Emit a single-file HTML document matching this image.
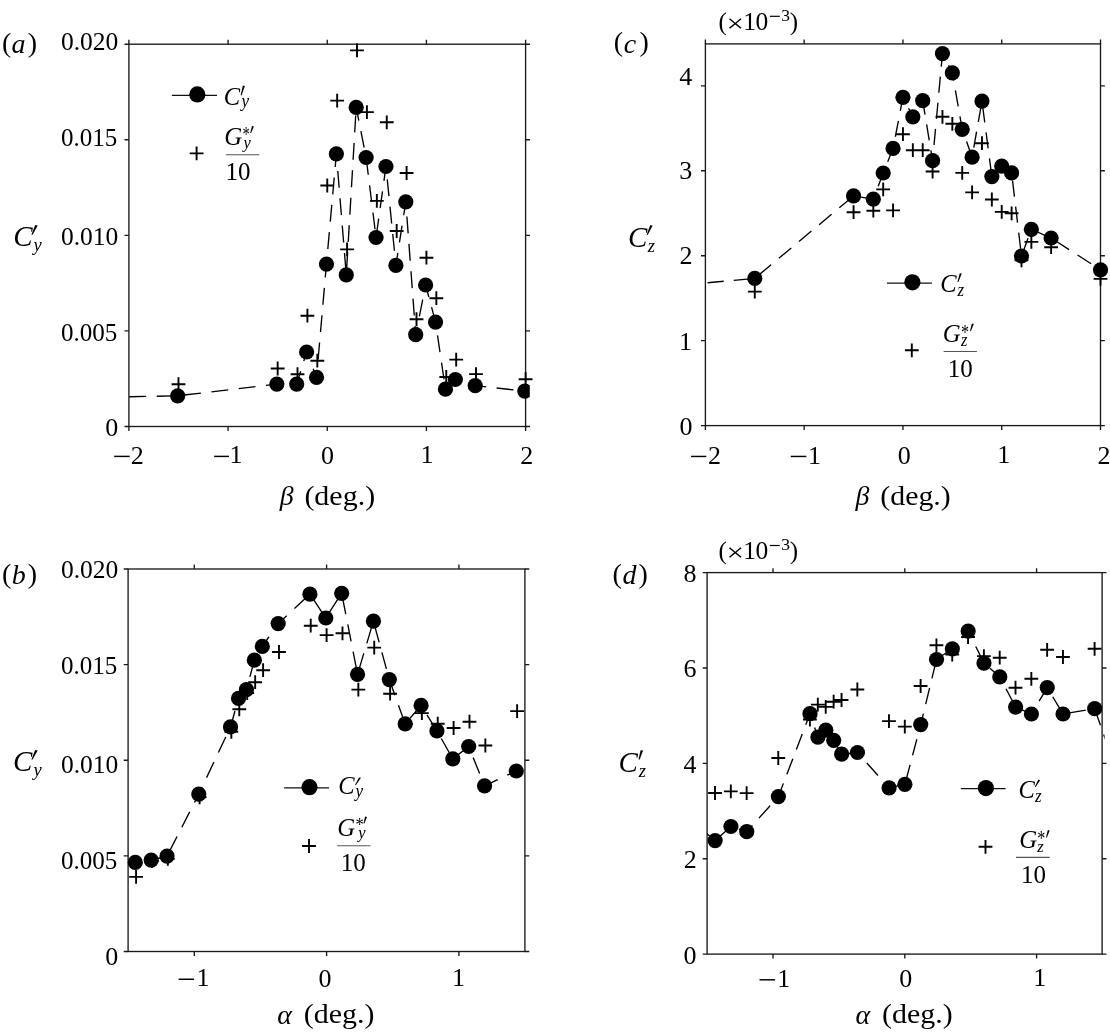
<!DOCTYPE html>
<html><head><meta charset="utf-8"><style>
html,body{margin:0;padding:0;background:#fff;overflow:hidden;}
svg{display:block;}
text{will-change:transform;}
</style></head><body>
<svg width="1110" height="1033" viewBox="0 0 1110 1033">
<rect width="1110" height="1033" fill="#fff"/>
<rect x="128.9" y="44.2" width="396.70" height="382.30" fill="none" stroke="#1a1a1a" stroke-width="1.35"/>
<path d="M128.89 426.50V430.90M128.89 44.20V39.80M228.07 426.50V430.90M228.07 44.20V39.80M327.25 426.50V430.90M327.25 44.20V39.80M426.43 426.50V430.90M426.43 44.20V39.80M525.61 426.50V430.90M525.61 44.20V39.80" stroke="#1a1a1a" stroke-width="1.35" fill="none"/>
<path d="M128.90 426.50H124.50M525.60 426.50H530.00M128.90 330.93H124.50M525.60 330.93H530.00M128.90 235.35H124.50M525.60 235.35H530.00M128.90 139.77H124.50M525.60 139.77H530.00M128.90 44.20H124.50M525.60 44.20H530.00" stroke="#1a1a1a" stroke-width="1.35" fill="none"/>
<clipPath id="ca"><rect x="128.9" y="0" width="400.90" height="1033"/></clipPath>
<path d="M128.90 396.80 L177.68 395.80 L276.86 384.10 L296.70 384.10 L306.61 352.00 L316.53 377.40 L326.45 264.10" stroke="#000" stroke-width="1.35" fill="none" stroke-dasharray="16.9 10.55" stroke-dashoffset="27.05" clip-path="url(#ca)"/>
<path d="M326.45 264.10 L336.37 153.80" stroke="#000" stroke-width="1.35" fill="none" stroke-dasharray="16.9 10.55" stroke-dashoffset="12.29" clip-path="url(#ca)"/>
<path d="M336.37 153.80 L346.29 274.90 L356.20 107.40" stroke="#000" stroke-width="1.35" fill="none" stroke-dasharray="16.9 10.55" stroke-dashoffset="10.24" clip-path="url(#ca)"/>
<path d="M356.20 107.40 L366.12 157.50 L376.04 237.50 L385.96 166.50 L395.88 265.40 L405.79 201.80" stroke="#000" stroke-width="1.35" fill="none" stroke-dasharray="16.9 10.55" stroke-dashoffset="3.34" clip-path="url(#ca)"/>
<path d="M405.79 201.80 L415.71 334.70 L425.63 285.00 L435.55 322.10" stroke="#000" stroke-width="1.35" fill="none" stroke-dasharray="16.9 10.55" stroke-dashoffset="12.67" clip-path="url(#ca)"/>
<path d="M435.55 322.10 L445.47 389.20 L455.38 379.50 L475.22 385.70" stroke="#000" stroke-width="1.35" fill="none" stroke-dasharray="16.9 10.55" stroke-dashoffset="14.03" clip-path="url(#ca)"/>
<path d="M475.22 385.70 L524.81 391.10" stroke="#000" stroke-width="1.35" fill="none" stroke-dasharray="16.9 10.55" stroke-dashoffset="5.86" clip-path="url(#ca)"/>
<g clip-path="url(#ca)">
<circle cx="177.68" cy="395.80" r="7.6"/>
<circle cx="276.86" cy="384.10" r="7.6"/>
<circle cx="296.70" cy="384.10" r="7.6"/>
<circle cx="306.61" cy="352.00" r="7.6"/>
<circle cx="316.53" cy="377.40" r="7.6"/>
<circle cx="326.45" cy="264.10" r="7.6"/>
<circle cx="336.37" cy="153.80" r="7.6"/>
<circle cx="346.29" cy="274.90" r="7.6"/>
<circle cx="356.20" cy="107.40" r="7.6"/>
<circle cx="366.12" cy="157.50" r="7.6"/>
<circle cx="376.04" cy="237.50" r="7.6"/>
<circle cx="385.96" cy="166.50" r="7.6"/>
<circle cx="395.88" cy="265.40" r="7.6"/>
<circle cx="405.79" cy="201.80" r="7.6"/>
<circle cx="415.71" cy="334.70" r="7.6"/>
<circle cx="425.63" cy="285.00" r="7.6"/>
<circle cx="435.55" cy="322.10" r="7.6"/>
<circle cx="445.47" cy="389.20" r="7.6"/>
<circle cx="455.38" cy="379.50" r="7.6"/>
<circle cx="475.22" cy="385.70" r="7.6"/>
<circle cx="524.81" cy="391.10" r="7.6"/>
</g>
<path d="M171.58 384.20H185.38M178.48 377.30V391.10M270.76 368.50H284.56M277.66 361.60V375.40M290.60 374.20H304.40M297.50 367.30V381.10M300.51 315.70H314.31M307.41 308.80V322.60M310.43 360.70H324.23M317.33 353.80V367.60M320.35 185.50H334.15M327.25 178.60V192.40M330.27 100.60H344.07M337.17 93.70V107.50M340.19 249.40H353.99M347.09 242.50V256.30M350.10 50.40H363.90M357.00 43.50V57.30M360.02 112.10H373.82M366.92 105.20V119.00M369.94 200.90H383.74M376.84 194.00V207.80M379.86 122.30H393.66M386.76 115.40V129.20M389.78 231.00H403.58M396.68 224.10V237.90M399.69 173.00H413.49M406.59 166.10V179.90M409.61 319.20H423.41M416.51 312.30V326.10M419.53 257.70H433.33M426.43 250.80V264.60M429.45 298.20H443.25M436.35 291.30V305.10M439.37 377.00H453.17M446.27 370.10V383.90M449.28 359.60H463.08M456.18 352.70V366.50M469.12 374.10H482.92M476.02 367.20V381.00M518.71 379.20H532.51M525.61 372.30V386.10" stroke="#000" stroke-width="1.9" fill="none"/>
<rect x="705.4" y="43.9" width="395.10" height="381.70" fill="none" stroke="#1a1a1a" stroke-width="1.35"/>
<path d="M705.39 425.60V430.00M705.39 43.90V39.50M804.17 425.60V430.00M804.17 43.90V39.50M902.95 425.60V430.00M902.95 43.90V39.50M1001.73 425.60V430.00M1001.73 43.90V39.50M1100.51 425.60V430.00M1100.51 43.90V39.50" stroke="#1a1a1a" stroke-width="1.35" fill="none"/>
<path d="M705.40 425.60H701.00M1100.50 425.60H1104.90M705.40 340.65H701.00M1100.50 340.65H1104.90M705.40 255.70H701.00M1100.50 255.70H1104.90M705.40 170.75H701.00M1100.50 170.75H1104.90M705.40 85.80H701.00M1100.50 85.80H1104.90" stroke="#1a1a1a" stroke-width="1.35" fill="none"/>
<clipPath id="cc"><rect x="705.4" y="0" width="399.10" height="1033"/></clipPath>
<path d="M705.40 283.00 L754.78 278.40 L853.56 195.90 L873.32 199.20 L883.19 173.00 L893.07 148.40 L902.95 97.30 L912.83 116.80 L922.71 100.70 L932.58 160.70 L942.46 53.60 L952.34 72.90 L962.22 129.30 L972.10 157.20 L981.97 101.10 L991.85 176.60 L1001.73 166.10 L1011.61 172.90 L1021.49 256.00 L1031.36 229.30 L1051.12 238.00 L1100.51 269.80" stroke="#000" stroke-width="1.35" fill="none" stroke-dasharray="16.2 10.05" stroke-dashoffset="-2.2" clip-path="url(#cc)"/>
<circle cx="754.78" cy="278.40" r="7.6"/>
<circle cx="853.56" cy="195.90" r="7.6"/>
<circle cx="873.32" cy="199.20" r="7.6"/>
<circle cx="883.19" cy="173.00" r="7.6"/>
<circle cx="893.07" cy="148.40" r="7.6"/>
<circle cx="902.95" cy="97.30" r="7.6"/>
<circle cx="912.83" cy="116.80" r="7.6"/>
<circle cx="922.71" cy="100.70" r="7.6"/>
<circle cx="932.58" cy="160.70" r="7.6"/>
<circle cx="942.46" cy="53.60" r="7.6"/>
<circle cx="952.34" cy="72.90" r="7.6"/>
<circle cx="962.22" cy="129.30" r="7.6"/>
<circle cx="972.10" cy="157.20" r="7.6"/>
<circle cx="981.97" cy="101.10" r="7.6"/>
<circle cx="991.85" cy="176.60" r="7.6"/>
<circle cx="1001.73" cy="166.10" r="7.6"/>
<circle cx="1011.61" cy="172.90" r="7.6"/>
<circle cx="1021.49" cy="256.00" r="7.6"/>
<circle cx="1031.36" cy="229.30" r="7.6"/>
<circle cx="1051.12" cy="238.00" r="7.6"/>
<circle cx="1100.51" cy="269.80" r="7.6"/>
<path d="M747.88 291.60H761.68M754.78 284.70V298.50M846.66 212.20H860.46M853.56 205.30V219.10M866.42 210.70H880.22M873.32 203.80V217.60M876.29 189.40H890.09M883.19 182.50V196.30M886.17 210.40H899.97M893.07 203.50V217.30M896.05 134.20H909.85M902.95 127.30V141.10M905.93 150.20H919.73M912.83 143.30V157.10M915.81 150.20H929.61M922.71 143.30V157.10M925.68 171.50H939.48M932.58 164.60V178.40M935.56 116.80H949.36M942.46 109.90V123.70M945.44 123.80H959.24M952.34 116.90V130.70M955.32 172.90H969.12M962.22 166.00V179.80M965.20 192.40H979.00M972.10 185.50V199.30M975.07 143.20H988.87M981.97 136.30V150.10M984.95 199.50H998.75M991.85 192.60V206.40M994.83 211.90H1008.63M1001.73 205.00V218.80M1004.71 213.30H1018.51M1011.61 206.40V220.20M1014.59 260.30H1028.39M1021.49 253.40V267.20M1024.46 241.90H1038.26M1031.36 235.00V248.80M1044.22 247.20H1058.02M1051.12 240.30V254.10M1093.61 278.90H1107.41M1100.51 272.00V285.80" stroke="#000" stroke-width="1.9" fill="none"/>
<rect x="128.1" y="569.0" width="396.80" height="382.50" fill="none" stroke="#1a1a1a" stroke-width="1.35"/>
<path d="M194.30 951.50V955.90M194.30 569.00V564.60M326.60 951.50V955.90M326.60 569.00V564.60M458.90 951.50V955.90M458.90 569.00V564.60" stroke="#1a1a1a" stroke-width="1.35" fill="none"/>
<path d="M128.10 951.50H123.70M524.90 951.50H529.30M128.10 855.88H123.70M524.90 855.88H529.30M128.10 760.25H123.70M524.90 760.25H529.30M128.10 664.62H123.70M524.90 664.62H529.30M128.10 569.00H123.70M524.90 569.00H529.30" stroke="#1a1a1a" stroke-width="1.35" fill="none"/>
<clipPath id="cb"><rect x="128.1" y="0" width="400.80" height="1033"/></clipPath>
<path d="M135.29 862.40 L151.16 860.10 L167.04 856.10 L198.79 794.10 L230.54 726.90 L238.48 698.40 L246.42 689.70 L254.36 660.20 L262.30 646.40 L278.17 623.60 L309.92 594.20 L325.80 618.00 L341.68 593.30 L357.55 674.30 L373.43 621.20 L389.30 679.60 L405.18 723.90 L421.06 705.40 L436.93 730.90 L452.81 758.80 L468.68 746.50 L484.56 785.80 L516.31 771.00" stroke="#000" stroke-width="1.35" fill="none" stroke-dasharray="17.2 10.5" stroke-dashoffset="-9.49" clip-path="url(#cb)"/>
<circle cx="135.29" cy="862.40" r="7.6"/>
<circle cx="151.16" cy="860.10" r="7.6"/>
<circle cx="167.04" cy="856.10" r="7.6"/>
<circle cx="198.79" cy="794.10" r="7.6"/>
<circle cx="230.54" cy="726.90" r="7.6"/>
<circle cx="238.48" cy="698.40" r="7.6"/>
<circle cx="246.42" cy="689.70" r="7.6"/>
<circle cx="254.36" cy="660.20" r="7.6"/>
<circle cx="262.30" cy="646.40" r="7.6"/>
<circle cx="278.17" cy="623.60" r="7.6"/>
<circle cx="309.92" cy="594.20" r="7.6"/>
<circle cx="325.80" cy="618.00" r="7.6"/>
<circle cx="341.68" cy="593.30" r="7.6"/>
<circle cx="357.55" cy="674.30" r="7.6"/>
<circle cx="373.43" cy="621.20" r="7.6"/>
<circle cx="389.30" cy="679.60" r="7.6"/>
<circle cx="405.18" cy="723.90" r="7.6"/>
<circle cx="421.06" cy="705.40" r="7.6"/>
<circle cx="436.93" cy="730.90" r="7.6"/>
<circle cx="452.81" cy="758.80" r="7.6"/>
<circle cx="468.68" cy="746.50" r="7.6"/>
<circle cx="484.56" cy="785.80" r="7.6"/>
<circle cx="516.31" cy="771.00" r="7.6"/>
<path d="M129.19 876.90H142.99M136.09 870.00V883.80M145.06 861.00H158.86M151.96 854.10V867.90M160.94 858.90H174.74M167.84 852.00V865.80M192.69 797.30H206.49M199.59 790.40V804.20M224.44 731.80H238.24M231.34 724.90V738.70M232.38 709.30H246.18M239.28 702.40V716.20M240.32 693.00H254.12M247.22 686.10V699.90M248.26 682.20H262.06M255.16 675.30V689.10M256.20 670.20H270.00M263.10 663.30V677.10M272.07 652.00H285.87M278.97 645.10V658.90M303.82 625.70H317.62M310.72 618.80V632.60M319.70 635.10H333.50M326.60 628.20V642.00M335.58 633.30H349.38M342.48 626.40V640.20M351.45 689.60H365.25M358.35 682.70V696.50M367.33 647.60H381.13M374.23 640.70V654.50M383.20 693.70H397.00M390.10 686.80V700.60M399.08 724.00H412.88M405.98 717.10V730.90M414.96 713.10H428.76M421.86 706.20V720.00M430.83 723.70H444.63M437.73 716.80V730.60M446.71 728.00H460.51M453.61 721.10V734.90M462.58 721.70H476.38M469.48 714.80V728.60M478.46 745.50H492.26M485.36 738.60V752.40M510.21 711.10H524.01M517.11 704.20V718.00" stroke="#000" stroke-width="1.9" fill="none"/>
<rect x="707.1" y="572.6" width="395.00" height="381.50" fill="none" stroke="#1a1a1a" stroke-width="1.35"/>
<path d="M773.00 954.10V958.50M773.00 572.60V568.20M904.80 954.10V958.50M904.80 572.60V568.20M1036.60 954.10V958.50M1036.60 572.60V568.20" stroke="#1a1a1a" stroke-width="1.35" fill="none"/>
<path d="M707.10 954.10H702.70M1102.10 954.10H1106.50M707.10 858.73H702.70M1102.10 858.73H1106.50M707.10 763.35H702.70M1102.10 763.35H1106.50M707.10 667.98H702.70M1102.10 667.98H1106.50M707.10 572.60H702.70M1102.10 572.60H1106.50" stroke="#1a1a1a" stroke-width="1.35" fill="none"/>
<clipPath id="cd"><rect x="707.1" y="0" width="397.50" height="1033"/></clipPath>
<path d="M700.00 828.00 L715.11 840.60 L730.92 826.50 L746.74 831.70 L778.37 796.60 L810.00 713.70 L817.91 737.10 L825.82 730.20 L833.73 740.30 L841.64 754.20 L857.45 752.50 L889.08 787.80 L904.90 784.30 L920.72 724.60 L936.53 659.50 L952.35 648.80 L968.16 631.10 L983.98 663.10 L999.80 676.90 L1015.61 707.10 L1031.43 714.00 L1047.24 687.60 L1063.06 714.00 L1094.69 708.70 L1106.00 741.00" stroke="#000" stroke-width="1.35" fill="none" stroke-dasharray="16.7 9.77" stroke-dashoffset="-22.8" clip-path="url(#cd)"/>
<circle cx="715.11" cy="840.60" r="7.6"/>
<circle cx="730.92" cy="826.50" r="7.6"/>
<circle cx="746.74" cy="831.70" r="7.6"/>
<circle cx="778.37" cy="796.60" r="7.6"/>
<circle cx="810.00" cy="713.70" r="7.6"/>
<circle cx="817.91" cy="737.10" r="7.6"/>
<circle cx="825.82" cy="730.20" r="7.6"/>
<circle cx="833.73" cy="740.30" r="7.6"/>
<circle cx="841.64" cy="754.20" r="7.6"/>
<circle cx="857.45" cy="752.50" r="7.6"/>
<circle cx="889.08" cy="787.80" r="7.6"/>
<circle cx="904.90" cy="784.30" r="7.6"/>
<circle cx="920.72" cy="724.60" r="7.6"/>
<circle cx="936.53" cy="659.50" r="7.6"/>
<circle cx="952.35" cy="648.80" r="7.6"/>
<circle cx="968.16" cy="631.10" r="7.6"/>
<circle cx="983.98" cy="663.10" r="7.6"/>
<circle cx="999.80" cy="676.90" r="7.6"/>
<circle cx="1015.61" cy="707.10" r="7.6"/>
<circle cx="1031.43" cy="714.00" r="7.6"/>
<circle cx="1047.24" cy="687.60" r="7.6"/>
<circle cx="1063.06" cy="714.00" r="7.6"/>
<circle cx="1094.69" cy="708.70" r="7.6"/>
<path d="M708.11 793.00H721.91M715.01 786.10V799.90M723.92 791.40H737.72M730.82 784.50V798.30M739.74 793.10H753.54M746.64 786.20V800.00M771.37 758.00H785.17M778.27 751.10V764.90M803.00 719.50H816.80M809.90 712.60V726.40M810.91 704.60H824.71M817.81 697.70V711.50M818.82 706.90H832.62M825.72 700.00V713.80M826.73 701.70H840.53M833.63 694.80V708.60M834.64 700.00H848.44M841.54 693.10V706.90M850.45 689.50H864.25M857.35 682.60V696.40M882.08 721.10H895.88M888.98 714.20V728.00M897.90 726.60H911.70M904.80 719.70V733.50M913.72 686.00H927.52M920.62 679.10V692.90M929.53 645.30H943.33M936.43 638.40V652.20M945.35 654.50H959.15M952.25 647.60V661.40M961.16 637.00H974.96M968.06 630.10V643.90M976.98 656.10H990.78M983.88 649.20V663.00M992.80 657.70H1006.60M999.70 650.80V664.60M1008.61 687.70H1022.41M1015.51 680.80V694.60M1024.43 678.80H1038.23M1031.33 671.90V685.70M1040.24 649.80H1054.04M1047.14 642.90V656.70M1056.06 657.00H1069.86M1062.96 650.10V663.90M1087.69 648.80H1101.49M1094.59 641.90V655.70" stroke="#000" stroke-width="1.9" fill="none"/>
<g font-family='"Liberation Serif", serif' fill="#000">
<text transform="translate(105.29,436.42)" font-size="26.0">0</text>
<text transform="translate(60.90,341.36) scale(0.9638,1.0000)" font-size="26.0">0.005</text>
<text transform="translate(60.88,245.21) scale(0.9811,1.0000)" font-size="26.0">0.010</text>
<text transform="translate(60.90,146.36) scale(0.9638,1.0000)" font-size="26.0">0.015</text>
<text transform="translate(60.88,50.46) scale(0.9811,1.0000)" font-size="26.0">0.020</text>
<text transform="translate(105.29,964.82)" font-size="26.0">0</text>
<text transform="translate(60.90,869.36) scale(0.9638,1.0000)" font-size="26.0">0.005</text>
<text transform="translate(60.88,773.31) scale(0.9811,1.0000)" font-size="26.0">0.010</text>
<text transform="translate(60.90,674.46) scale(0.9638,1.0000)" font-size="26.0">0.015</text>
<text transform="translate(60.88,578.46) scale(0.9811,1.0000)" font-size="26.0">0.020</text>
<text transform="translate(679.40,434.77)" font-size="26.0">0</text>
<text transform="translate(679.04,350.28)" font-size="26.0">1</text>
<text transform="translate(679.55,264.26)" font-size="26.0">2</text>
<text transform="translate(679.29,179.33)" font-size="26.0">3</text>
<text transform="translate(679.35,84.66)" font-size="26.0">4</text>
<text transform="translate(683.60,963.52)" font-size="26.0">0</text>
<text transform="translate(683.75,868.21)" font-size="26.0">2</text>
<text transform="translate(683.55,772.81)" font-size="26.0">4</text>
<text transform="translate(683.43,677.38)" font-size="26.0">6</text>
<text transform="translate(683.60,582.37)" font-size="26.0">8</text>
<path d="M114.19 456.40H129.69" stroke="#000" stroke-width="1.45"/>
<text transform="translate(130.65,463.51)" font-size="26.0">2</text>
<path d="M214.17 456.40H228.97" stroke="#000" stroke-width="1.45"/>
<text transform="translate(229.48,463.48)" font-size="26.0">1</text>
<text transform="translate(321.05,463.62)" font-size="26.0">0</text>
<text transform="translate(420.44,463.28)" font-size="26.0">1</text>
<text transform="translate(520.15,463.71)" font-size="26.0">2</text>
<path d="M691.09 456.45H706.39" stroke="#000" stroke-width="1.45"/>
<text transform="translate(707.95,463.56)" font-size="26.0">2</text>
<path d="M790.77 456.45H806.37" stroke="#000" stroke-width="1.45"/>
<text transform="translate(808.08,463.53)" font-size="26.0">1</text>
<text transform="translate(897.80,463.62)" font-size="26.0">0</text>
<text transform="translate(997.19,463.28)" font-size="26.0">1</text>
<text transform="translate(1097.55,463.71)" font-size="26.0">2</text>
<path d="M178.60 979.25H194.10" stroke="#000" stroke-width="1.45"/>
<text transform="translate(196.51,986.33)" font-size="26.0">1</text>
<text transform="translate(318.40,986.52)" font-size="26.0">0</text>
<text transform="translate(452.04,986.33)" font-size="26.0">1</text>
<path d="M759.50 979.80H775.10" stroke="#000" stroke-width="1.45"/>
<text transform="translate(777.31,986.88)" font-size="26.0">1</text>
<text transform="translate(899.30,986.72)" font-size="26.0">0</text>
<text transform="translate(1033.14,986.23)" font-size="26.0">1</text>
<text transform="translate(279.65,504.98)" font-size="28" font-style="italic">β</text>
<text transform="translate(304.38,504.99) scale(1.0705,1.0000)" font-size="28">(deg.)</text>
<text transform="translate(855.55,504.98)" font-size="28" font-style="italic">β</text>
<text transform="translate(880.29,504.99) scale(1.0658,1.0000)" font-size="28">(deg.)</text>
<text transform="translate(277.27,1024.21)" font-size="28" font-style="italic">α</text>
<text transform="translate(303.78,1023.49) scale(1.0705,1.0000)" font-size="28">(deg.)</text>
<text transform="translate(855.47,1024.21)" font-size="28" font-style="italic">α</text>
<text transform="translate(881.98,1023.49) scale(1.0705,1.0000)" font-size="28">(deg.)</text>
<text transform="translate(1.97,51.73)" font-size="28">(</text>
<text transform="translate(27.81,51.73)" font-size="28">)</text>
<text transform="translate(11.57,52.65)" font-size="28" font-style="italic">a</text>
<text transform="translate(1.97,583.03)" font-size="28">(</text>
<text transform="translate(27.81,583.03)" font-size="28">)</text>
<text transform="translate(11.66,583.63)" font-size="28" font-style="italic">b</text>
<text transform="translate(613.77,51.43)" font-size="28">(</text>
<text transform="translate(639.61,51.43)" font-size="28">)</text>
<text transform="translate(623.64,52.56)" font-size="28" font-style="italic">c</text>
<text transform="translate(612.57,583.13)" font-size="28">(</text>
<text transform="translate(638.41,583.13)" font-size="28">)</text>
<text transform="translate(622.55,583.62)" font-size="28" font-style="italic">d</text>
<text transform="translate(718.40,29.66)" font-size="25">(</text>
<text transform="translate(726.45,31.96) scale(1.2391,1.0000)" font-size="25">×</text>
<text transform="translate(743.36,30.07)" font-size="25.5">1</text>
<text transform="translate(755.43,30.20)" font-size="25.5">0</text>
<path d="M769.90 16.30H779.80" stroke="#000" stroke-width="1.2"/>
<text transform="translate(781.16,21.06)" font-size="17.5">3</text>
<text transform="translate(789.67,29.66)" font-size="25">)</text>
<text transform="translate(718.40,558.86)" font-size="25">(</text>
<text transform="translate(726.45,561.16) scale(1.2391,1.0000)" font-size="25">×</text>
<text transform="translate(743.36,559.27)" font-size="25.5">1</text>
<text transform="translate(755.43,559.40)" font-size="25.5">0</text>
<path d="M769.90 545.50H779.80" stroke="#000" stroke-width="1.2"/>
<text transform="translate(781.16,550.26)" font-size="17.5">3</text>
<text transform="translate(789.67,558.86)" font-size="25">)</text>
<text transform="translate(13.19,246.33) scale(0.9832,1.0000)" font-size="29.5" font-style="italic">C</text>
<path d="M31.40 234.80L32.60 234.80L37.70 225.40L35.20 225.00Z" fill="#000"/>
<text transform="translate(33.54,250.90)" font-size="18.5" font-style="italic">y</text>
<text transform="translate(12.89,771.43) scale(0.9832,1.0000)" font-size="29.5" font-style="italic">C</text>
<path d="M31.40 759.60L32.60 759.60L37.70 750.40L35.20 750.00Z" fill="#000"/>
<text transform="translate(33.54,775.85)" font-size="18.5" font-style="italic">y</text>
<text transform="translate(627.89,246.63) scale(0.9832,1.0000)" font-size="29.5" font-style="italic">C</text>
<path d="M646.60 234.70L647.80 234.70L652.70 225.60L650.20 225.20Z" fill="#000"/>
<text transform="translate(647.71,251.85)" font-size="18.5" font-style="italic">z</text>
<text transform="translate(618.59,771.53) scale(0.9832,1.0000)" font-size="29.5" font-style="italic">C</text>
<path d="M638.50 759.50L639.70 759.50L643.10 750.60L640.60 750.20Z" fill="#000"/>
<text transform="translate(638.71,776.60)" font-size="18.5" font-style="italic">z</text>
</g>
<path d="M171.90 95.30H217.00" stroke="#111" stroke-width="1.25"/>
<circle cx="197.30" cy="94.40" r="8.1"/>
<path d="M189.70 153.40H203.50M196.60 146.50V160.30" stroke="#000" stroke-width="1.9"/>
<g font-family='"Liberation Serif", serif' fill="#000">
<text transform="translate(223.84,104.55)" font-size="24.5" font-style="italic">C</text>
<path d="M240.60 95.20L241.60 95.20L244.90 86.00L242.90 85.60Z" fill="#000"/>
<text transform="translate(241.52,106.61) scale(1.0000,1.1158)" font-size="17" font-style="italic">y</text>
<text transform="translate(224.33,145.00)" font-size="24.8" font-style="italic">G</text>
<text transform="translate(242.60,141.21) scale(0.7989,1.1211)" font-size="18">*</text>
<path d="M250.20 133.00L251.10 133.00L253.90 126.50L252.00 126.10Z" fill="#000"/>
<text transform="translate(243.38,147.71) scale(1.0000,0.9790)" font-size="16.5" font-style="italic">y</text>
<text transform="translate(225.60,180.09)" font-size="25">10</text>
</g>
<path d="M225.90 154.70H259.20" stroke="#555" stroke-width="1.1"/>
<path d="M284.10 787.93H329.00" stroke="#111" stroke-width="1.25"/>
<circle cx="309.50" cy="787.20" r="8.1"/>
<path d="M302.10 846.00H315.90M309.00 839.10V852.90" stroke="#000" stroke-width="1.9"/>
<g font-family='"Liberation Serif", serif' fill="#000">
<text transform="translate(338.14,794.45)" font-size="24.5" font-style="italic">C</text>
<path d="M355.00 785.00L356.00 785.00L361.00 777.80L359.00 777.40Z" fill="#000"/>
<text transform="translate(355.42,796.80) scale(1.0000,1.0635)" font-size="17" font-style="italic">y</text>
<text transform="translate(337.33,835.50)" font-size="24.8" font-style="italic">G</text>
<text transform="translate(355.49,831.38) scale(0.9229,1.0757)" font-size="18">*</text>
<path d="M363.50 823.50L364.40 823.50L367.00 816.90L365.10 816.50Z" fill="#000"/>
<text transform="translate(358.18,838.38) scale(1.0000,0.9610)" font-size="16.5" font-style="italic">y</text>
<text transform="translate(340.80,871.19)" font-size="25">10</text>
</g>
<path d="M337.20 845.70H370.50" stroke="#555" stroke-width="1.1"/>
<path d="M886.90 283.00H931.90" stroke="#111" stroke-width="1.25"/>
<circle cx="912.40" cy="282.30" r="8.1"/>
<path d="M904.90 350.30H918.70M911.80 343.40V357.20" stroke="#000" stroke-width="1.9"/>
<g font-family='"Liberation Serif", serif' fill="#000">
<text transform="translate(940.34,291.80)" font-size="24.5" font-style="italic">C</text>
<path d="M957.40 282.00L958.40 282.00L961.80 273.60L959.80 273.20Z" fill="#000"/>
<text transform="translate(957.59,295.90) scale(1.0000,1.1278)" font-size="17" font-style="italic">z</text>
<text transform="translate(942.83,341.80)" font-size="24.8" font-style="italic">G</text>
<text transform="translate(961.01,338.93) scale(0.8953,1.1817)" font-size="18">*</text>
<path d="M970.00 331.00L970.90 331.00L973.80 323.90L971.90 323.50Z" fill="#000"/>
<text transform="translate(961.09,346.20) scale(1.0000,1.0828)" font-size="16.5" font-style="italic">z</text>
<text transform="translate(947.70,377.39)" font-size="25">10</text>
</g>
<path d="M943.60 351.50H976.90" stroke="#555" stroke-width="1.1"/>
<path d="M960.80 788.70H1005.60" stroke="#111" stroke-width="1.25"/>
<circle cx="985.90" cy="788.10" r="8.1"/>
<path d="M978.60 846.80H992.40M985.50 839.90V853.70" stroke="#000" stroke-width="1.9"/>
<g font-family='"Liberation Serif", serif' fill="#000">
<text transform="translate(1018.44,797.50)" font-size="24.5" font-style="italic">C</text>
<path d="M1034.70 787.10L1035.70 787.10L1040.20 780.10L1038.20 779.70Z" fill="#000"/>
<text transform="translate(1034.89,802.00) scale(1.0000,1.1278)" font-size="17" font-style="italic">z</text>
<text transform="translate(1019.13,847.80)" font-size="24.8" font-style="italic">G</text>
<text transform="translate(1037.31,845.41) scale(0.8953,1.1969)" font-size="18">*</text>
<path d="M1046.00 837.50L1046.90 837.50L1049.70 830.40L1047.80 830.00Z" fill="#000"/>
<text transform="translate(1037.29,852.20) scale(1.0000,0.9903)" font-size="16.5" font-style="italic">z</text>
<text transform="translate(1021.00,883.44)" font-size="25">10</text>
</g>
<path d="M1016.00 857.40H1049.70" stroke="#555" stroke-width="1.1"/>
</svg>
</body></html>
